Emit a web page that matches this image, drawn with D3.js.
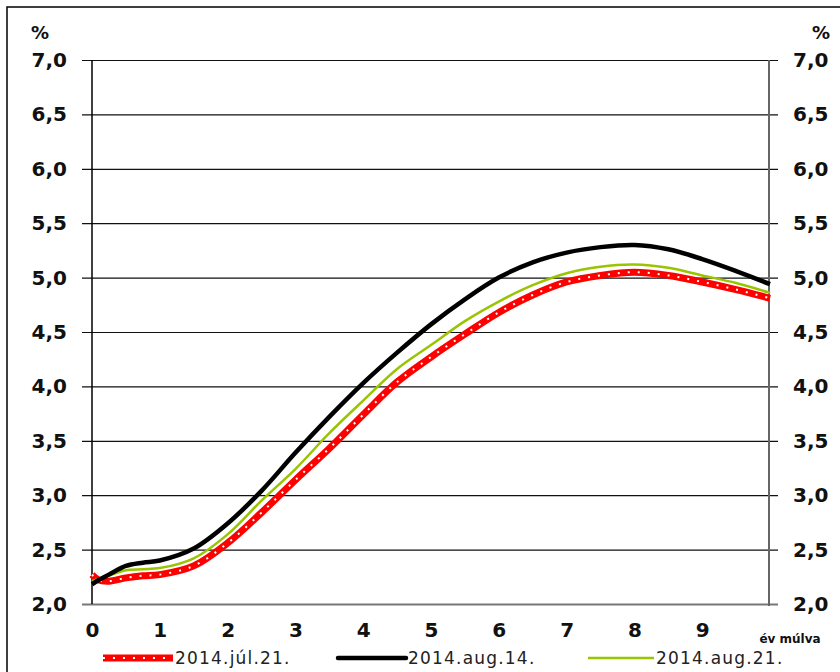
<!DOCTYPE html>
<html>
<head>
<meta charset="utf-8">
<script src="https://cdn.jsdelivr.net/npm/d3@7"></script>
<style>
  body { margin: 0; background: #fff; }
  svg text { font-family: "DejaVu Sans", Verdana, sans-serif; fill: #111; }
  .tick-y text, .tick-x text { font-weight: bold; font-size: 20px; }
  .legend text { font-size: 17px; letter-spacing: 1.2px; fill: #222; }
</style>
</head>
<body>
<svg id="chart" width="840" height="672"></svg>
<script>
// years ahead
var years = [0, 0.1, 0.25, 0.5, 0.75, 1, 1.5, 2, 2.5, 3, 3.5, 4, 4.5, 5, 5.5, 6, 6.5, 7, 7.5, 8, 8.5, 9, 9.5, 10];

// 2014.júl.21.
var jul21 = [2.27, 2.22, 2.21, 2.24, 2.26, 2.27, 2.35, 2.56, 2.84, 3.14, 3.43, 3.74, 4.04, 4.27, 4.48, 4.68, 4.84, 4.96, 5.02, 5.05, 5.02, 4.96, 4.89, 4.81];
// 2014.aug.14.
var aug14 = [2.18, 2.22, 2.27, 2.35, 2.38, 2.40, 2.51, 2.74, 3.04, 3.39, 3.72, 4.03, 4.31, 4.57, 4.80, 5.00, 5.14, 5.23, 5.28, 5.30, 5.26, 5.17, 5.06, 4.94];
// 2014.aug.21.
var aug21 = [2.21, 2.23, 2.26, 2.31, 2.32, 2.33, 2.42, 2.64, 2.95, 3.24, 3.57, 3.87, 4.16, 4.38, 4.60, 4.78, 4.93, 5.04, 5.10, 5.12, 5.09, 5.02, 4.95, 4.86];

var seriesNames = ['2014.júl.21.', '2014.aug.14.', '2014.aug.21.'];

var yTicks = [2.0, 2.5, 3.0, 3.5, 4.0, 4.5, 5.0, 5.5, 6.0, 6.5, 7.0];
var yTickLabels = ['2,0', '2,5', '3,0', '3,5', '4,0', '4,5', '5,0', '5,5', '6,0', '6,5', '7,0'];
var xTicks = [0, 1, 2, 3, 4, 5, 6, 7, 8, 9];
var xTickLabels = ['0', '1', '2', '3', '4', '5', '6', '7', '8', '9'];

var svg = d3.select('#chart');

var x = d3.scaleLinear().domain([0, 10]).range([92, 770]);
var y = d3.scaleLinear().domain([2, 7]).range([604, 60]);

// outer frame (right/bottom edges run off the picture)
svg.append('rect')
  .attr('x', 7).attr('y', 7)
  .attr('width', 900).attr('height', 700)
  .attr('fill', 'none').attr('stroke', '#000').attr('stroke-width', 1.5);

// gridlines + left labels
var gLeft = svg.append('g')
  .attr('class', 'tick-y')
  .attr('transform', 'translate(82,0)')
  .call(d3.axisLeft(y)
    .tickValues(yTicks)
    .tickSize(-696)
    .tickPadding(15)
    .tickFormat(function(d, i) { return yTickLabels[i]; }));
gLeft.select('.domain').remove();
gLeft.selectAll('line')
  .attr('stroke', function(d) { return d === 2 ? '#777' : '#111'; })
  .attr('stroke-width', function(d) { return d === 2 ? 2 : 1.2; });

// right labels
var gRight = svg.append('g')
  .attr('class', 'tick-y')
  .attr('transform', 'translate(778,0)')
  .call(d3.axisRight(y)
    .tickValues(yTicks)
    .tickSize(0)
    .tickPadding(15)
    .tickFormat(function(d, i) { return yTickLabels[i]; }));
gRight.select('.domain').remove();

// x labels
var gBottom = svg.append('g')
  .attr('class', 'tick-x')
  .attr('transform', 'translate(0,604)')
  .call(d3.axisBottom(x)
    .tickValues(xTicks)
    .tickSize(0)
    .tickPadding(19)
    .tickFormat(function(d, i) { return xTickLabels[i]; }));
gBottom.select('.domain').remove();

// vertical axes
svg.append('line')
  .attr('x1', x(0)).attr('x2', x(0))
  .attr('y1', y(7)).attr('y2', y(2))
  .attr('stroke', '#000').attr('stroke-width', 1.5);
svg.append('line')
  .attr('x1', x(10) - 1).attr('x2', x(10) - 1)
  .attr('y1', y(7)).attr('y2', y(2) + 2)
  .attr('stroke', '#666').attr('stroke-width', 2);

// units
svg.append('text').attr('x', 31).attr('y', 39)
  .attr('font-size', 18).attr('font-weight', 'bold').text('%');
svg.append('text').attr('x', 812).attr('y', 39)
  .attr('font-size', 18).attr('font-weight', 'bold').text('%');
svg.append('text').attr('x', 790).attr('y', 643)
  .attr('text-anchor', 'middle')
  .attr('font-size', 12).attr('font-weight', 'bold').attr('fill', '#1a1a3a')
  .text('év múlva');

var line = d3.line()
  .x(function(d) { return x(d[0]); })
  .y(function(d) { return y(d[1]); })
  .curve(d3.curveCatmullRom.alpha(0.5));

function pts(vals) {
  return years.map(function(t, i) { return [t, vals[i]]; });
}

var plot = svg.append('g').attr('fill', 'none');

plot.append('path').datum(pts(jul21))
  .attr('d', line).attr('stroke', '#ff0000').attr('stroke-width', 7);
plot.append('path').datum(pts(jul21))
  .attr('d', line).attr('stroke', '#fff').attr('stroke-width', 2)
  .attr('stroke-dasharray', '2,8');

plot.append('path').datum(pts(aug21))
  .attr('d', line).attr('stroke', '#99c400').attr('stroke-width', 2.5);

plot.append('path').datum(pts(aug14))
  .attr('d', line).attr('stroke', '#000').attr('stroke-width', 4.5);

// legend
var legend = svg.append('g').attr('class', 'legend');
var legendX = [103, 338, 588];
var legendW = [70, 68, 66];

seriesNames.forEach(function(name, i) {
  var gy = 658;
  var x0 = legendX[i], x1 = legendX[i] + legendW[i];
  if (i === 0) {
    legend.append('line').attr('x1', x0).attr('x2', x1).attr('y1', gy).attr('y2', gy)
      .attr('stroke', '#ff0000').attr('stroke-width', 7);
    legend.append('line').attr('x1', x0).attr('x2', x1).attr('y1', gy).attr('y2', gy)
      .attr('stroke', '#fff').attr('stroke-width', 2).attr('stroke-dasharray', '2,8');
  } else if (i === 1) {
    legend.append('line').attr('x1', x0).attr('x2', x1).attr('y1', gy).attr('y2', gy)
      .attr('stroke', '#000').attr('stroke-width', 4.5).attr('stroke-linecap', 'round');
  } else {
    legend.append('line').attr('x1', x0).attr('x2', x1).attr('y1', gy).attr('y2', gy)
      .attr('stroke', '#99c400').attr('stroke-width', 2.5);
  }
  legend.append('text').attr('x', x1 + 2).attr('y', gy + 6).text(name);
});
</script>
</body>
</html>
